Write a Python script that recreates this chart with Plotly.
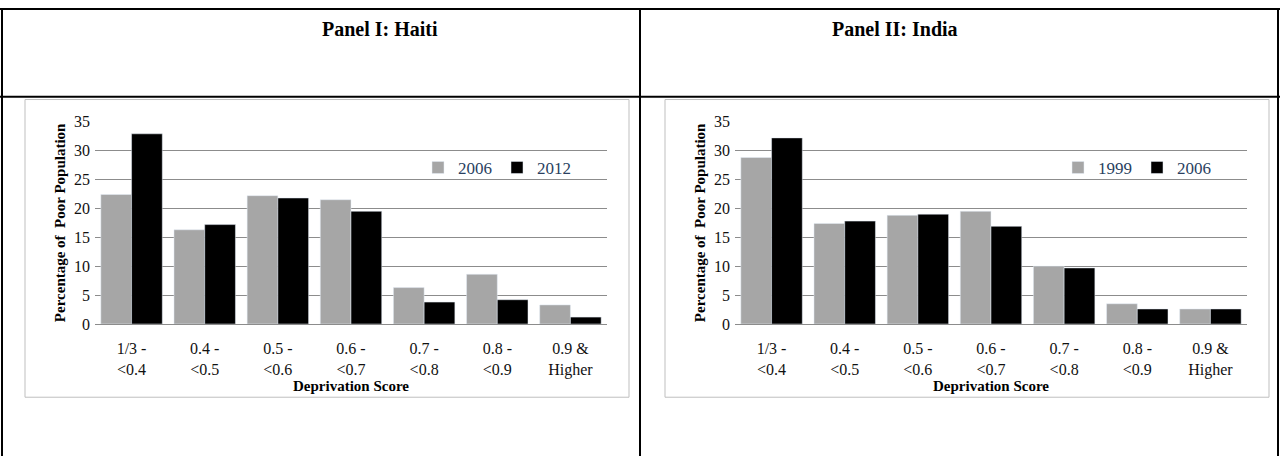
import plotly.graph_objects as go

W, H = 1280, 465
cats = ["1/3 -<br><0.4", "0.4 -<br><0.5", "0.5 -<br><0.6", "0.6 -<br><0.7",
        "0.7 -<br><0.8", "0.8 -<br><0.9", "0.9 &<br>Higher"]
haiti_2006 = [22.4, 16.3, 22.2, 21.5, 6.3, 8.6, 3.3]
haiti_2012 = [32.9, 17.2, 21.8, 19.5, 3.8, 4.2, 1.2]
india_1999 = [28.8, 17.4, 18.8, 19.5, 10.0, 3.5, 2.6]
india_2006 = [32.2, 17.8, 19.0, 16.9, 9.7, 2.6, 2.6]

GREY = "#a6a6a6"
BLACK = "#000000"
FONT = "Liberation Serif"

def px(x):
    return x / W

def py(y):
    return 1 - y / H

fig = go.Figure()
fig.add_trace(go.Bar(x=cats, y=haiti_2006, name="2006", marker_color=GREY, xaxis="x", yaxis="y", legend="legend"))
fig.add_trace(go.Bar(x=cats, y=haiti_2012, name="2012", marker_color=BLACK, xaxis="x", yaxis="y", legend="legend"))
fig.add_trace(go.Bar(x=cats, y=india_1999, name="1999", marker_color=GREY, xaxis="x2", yaxis="y2", legend="legend2"))
fig.add_trace(go.Bar(x=cats, y=india_2006, name="2006", marker_color=BLACK, xaxis="x2", yaxis="y2", legend="legend2"))

ytop, ybot = 118, 328
tickfont = dict(family=FONT, size=16, color="#111")
titlefont = dict(family=FONT, size=15, color="#000")
yaxis_common = dict(range=[0, 35], dtick=5, showgrid=True, gridcolor="#8c8c8c",
                    domain=[py(ybot), py(ytop)], ticks="", zeroline=False,
                    showline=False, tickfont=tickfont, ticklabelstandoff=4,
                    title=dict(text="<b>Percentage of  Poor Population</b>",
                               font=titlefont, standoff=4))
xaxis_common = dict(showline=True, linecolor="#8c8c8c", ticks="", tickfont=tickfont,
                    ticklabelstandoff=10,
                    title=dict(text="<b>Deprivation Score</b>", font=titlefont, standoff=2))

fig.update_layout(
    width=W, height=H, margin=dict(l=0, r=0, t=0, b=0),
    plot_bgcolor="white", paper_bgcolor="white",
    barmode="group", bargap=0.16, bargroupgap=0,
    xaxis=dict(domain=[px(95), px(607)], anchor="y", **xaxis_common),
    yaxis=dict(anchor="x", **yaxis_common),
    xaxis2=dict(domain=[px(735), px(1247)], anchor="y2", **xaxis_common),
    yaxis2=dict(anchor="x2", **yaxis_common),
    legend=dict(x=px(418), y=py(166), xanchor="left", yanchor="middle", orientation="h",
                font=dict(family=FONT, size=17), bgcolor="rgba(0,0,0,0)", itemwidth=30),
    legend2=dict(x=px(1058), y=py(166), xanchor="left", yanchor="middle", orientation="h",
                 font=dict(family=FONT, size=17), bgcolor="rgba(0,0,0,0)", itemwidth=30),
    font=dict(family=FONT),
)

line = dict(color="black", width=2)
shapes = [
    dict(type="line", xref="paper", yref="paper", x0=px(2), x1=px(2), y0=0, y1=1, line=line),
    dict(type="line", xref="paper", yref="paper", x0=px(1278), x1=px(1278), y0=0, y1=1, line=line),
    dict(type="line", xref="paper", yref="paper", x0=px(640), x1=px(640), y0=0, y1=1, line=line),
    dict(type="line", xref="paper", yref="paper", x0=0, x1=1, y0=py(1), y1=py(1), line=line),
    dict(type="line", xref="paper", yref="paper", x0=0, x1=1, y0=py(92), y1=py(92), line=line),
    dict(type="rect", xref="paper", yref="paper", x0=px(25), x1=px(629), y0=py(404), y1=py(95),
         line=dict(color="#bfbfbf", width=1)),
    dict(type="rect", xref="paper", yref="paper", x0=px(665), x1=px(1269), y0=py(404), y1=py(95),
         line=dict(color="#bfbfbf", width=1)),
]
fig.update_layout(shapes=shapes)

for xc, t in [(320, "Panel I: Haiti"), (960, "Panel II: India")]:
    fig.add_annotation(x=px(xc), y=py(22), xref="paper", yref="paper", showarrow=False,
                       yanchor="middle", text="<b>" + t + "</b>",
                       font=dict(family=FONT, size=20, color="black"))

fig.write_html("out.html", config={"displayModeBar": False},
               post_script="document.body.style.margin='0';")
